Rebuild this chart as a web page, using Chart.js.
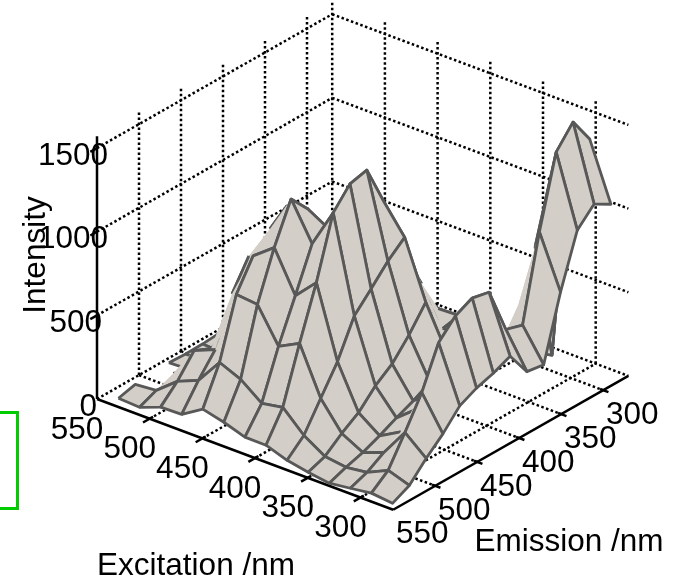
<!DOCTYPE html>
<html>
<head>
<meta charset="utf-8">
<style>
  html, body { margin: 0; padding: 0; background: #fff; }
  canvas { display: block; }
</style>
<script src="https://cdn.jsdelivr.net/npm/chart.js@4"></script>
</head>
<body>
<canvas id="chart" width="679" height="580"></canvas>
<script>
// grid of the measured surface
const excitation = [540, 520, 500, 480, 460, 440, 420, 400, 380, 360, 340, 320, 300, 280];
const emission = [537, 517, 497, 477, 457, 437, 417, 397, 377, 357, 337, 317, 297, 277];

// intensity along emission, one list per excitation
const exc540 = [-9, 17, null, 32, 27, 29, 37, 0, 0, 0, 0, 0, 0, 0];
const exc520 = [-16, 28, 72, 37, 21, 23, 0, 0, 0, 0, 0, 0, 0, 0];
const exc500 = [32, 129, 256, 210, 259, 142, 84, 56, 27, 0, 0, 0, 0, 0];
const exc480 = [36, 182, 309, 585, 754, 607, 429, 252, 133, 45, 0, 0, 0, 0];
const exc460 = [114, 336, 685, 859, 963, 1042, 805, 538, 330, 182, 35, 0, 0, 0];
const exc440 = [83, 282, 672, 955, 1189, 1072, 822, 585, 407, 230, 112, 24, 0, 0];
const exc420 = [41, 186, 469, 715, 968, 999, 690, 513, 394, 277, 159, 41, 0, 0];
const exc400 = [40, 209, 534, 840, 1200, 1316, 1341, 1098, 770, 443, 266, 88, 1, 0];
const exc380 = [-3, 88, 252, 414, 631, 735, 844, 929, 596, 389, 253, 105, 17, 0];
const exc360 = [-27, 10, 90, 157, 260, 334, 449, 588, 374, 394, 240, 123, 35, 0];
const exc340 = [-46, -8, 23, 66, 116, 160, 215, 331, 403, 286, 168, 140, 52, 23];
const exc320 = [-29, 9, 71, 137, 217, 267, 328, 270, 271, 303, 496, 785, 81, 1236];
const exc300 = [-11, 68, 237, 418, 659, 762, 812, 790, 510, 479, 978, 1399, 1521, 1361];
const exc280 = [-25, 25, 129, 219, 329, 378, 410, 454, 305, 289, 666, 979, 1078, 1020];
const intensity = [exc540, exc520, exc500, exc480, exc460, exc440, exc420, exc400,
  exc380, exc360, exc340, exc320, exc300, exc280];

// axis ticks and limits
const excTicks = [550, 500, 450, 400, 350, 300];
const emTicks = [550, 500, 450, 400, 350, 300];
const zTicks = [0, 500, 1000, 1500];
const excMax = 550, excMin = 269;
const emMax = 550, emMin = 270;
const zMax = 1570;

// mesh edges the original does not stroke (silhouettes and folds)
const hiddenEdges = [
  [1, 1, 1, 2], [1, 2, 2, 2], [2, 3, 3, 3], [2, 4, 3, 4], [3, 2, 3, 3], [3, 2, 4, 2],
  [3, 3, 4, 3], [3, 4, 4, 4], [4, 3, 4, 4], [4, 4, 5, 4], [8, 7, 8, 8], [8, 8, 8, 9],
  [8, 8, 9, 8], [9, 7, 9, 8], [10, 10, 11, 10], [10, 11, 11, 11], [11, 9, 11, 10], [11, 10, 11, 11],
  [11, 10, 12, 10], [11, 2, 11, 3], [11, 3, 11, 4], [11, 4, 11, 5], [11, 3, 12, 3], [11, 4, 12, 4],
  [11, 5, 12, 5], [11, 6, 12, 6], [11, 7, 12, 7], [11, 8, 12, 8],
];

const FONT = '31.5px "Liberation Sans", Arial, sans-serif';
const MESH = "#585858";
const SURFACE = "#d3cfc8";

// fixed view of the 3D box
function project(exc, em, z) {
  return {
    x: 97 + (excMax - exc) * 1.054 + (emMax - em) * 0.84,
    y: 399 + (excMax - exc) * 0.394 - (emMax - em) * 0.478 - z * 0.1673,
  };
}

function edgeKey(i1, j1, i2, j2) {
  const a = i1 * 100 + j1, b = i2 * 100 + j2;
  return a < b ? a + "-" + b : b + "-" + a;
}
const hiddenKeys = new Set(hiddenEdges.map((e) => edgeKey(e[0], e[1], e[2], e[3])));

function lineSet(points, color, width, dash) {
  return {
    data: points,
    showLine: true,
    fill: false,
    borderColor: color,
    borderWidth: width,
    borderDash: dash || [],
    borderCapStyle: "butt",
    pointRadius: 0,
    tension: 0,
  };
}

function buildCells() {
  const cells = [];
  // nearest cell first: chart.js paints the first dataset on top
  for (let i = excitation.length - 2; i >= 0; i--) {
    for (let j = 0; j < emission.length - 1; j++) {
      const nodes = [[i, j], [i + 1, j], [i + 1, j + 1], [i, j + 1], [i, j]];
      if (nodes.some((n) => intensity[n[0]][n[1]] === null)) continue;
      const points = nodes.map((n) => project(excitation[n[0]], emission[n[1]], intensity[n[0]][n[1]]));
      const hide = nodes.slice(0, 4).map((n, k) => {
        const m = nodes[k + 1];
        return hiddenKeys.has(edgeKey(n[0], n[1], m[0], m[1]));
      });
      const outline = lineSet(points, MESH, 2.8);
      outline.borderJoinStyle = "round";
      if (hide.includes(true)) {
        // the filler closes each styled segment on its own, so fill and outline stay apart
        outline.segment = { borderColor: (ctx) => (hide[ctx.p0DataIndex] ? "rgba(0,0,0,0)" : undefined) };
      }
      const face = lineSet(points, "rgba(0,0,0,0)", 0);
      face.fill = "shape";
      face.backgroundColor = SURFACE;
      cells.push(outline, face);
    }
  }
  return cells;
}

function buildBox() {
  const sets = [];
  const dots = [2.5, 2.5];
  const dotted = (a, b) => sets.push(lineSet([a, b], "#000", 2.5, dots));
  const solid = (a, b) => sets.push(lineSet([a, b], "#000", 2.5));

  // black axes and tick marks
  solid(project(excMax, emMax, 0), project(excMin, emMax, 0));
  solid(project(excMin, emMax, 0), project(excMin, emMin, 0));
  solid(project(excMax, emMax, 0), project(excMax, emMax, zMax));
  excTicks.slice(1).forEach((t) => solid(project(t, emMax + 8, 0), project(t, emMax - 4, 0)));
  emTicks.slice(1).forEach((t) => solid(project(excMin - 5, t, 0), project(excMin + 3, t, 0)));
  zTicks.slice(1).forEach((t) => solid(project(excMax, emMax + 8, t), project(excMax, emMax, t)));

  // dotted walls and floor
  zTicks.slice(1).forEach((t) => {
    dotted(project(excMax, emMax, t), project(excMax, emMin, t));
    dotted(project(excMax, emMin, t), project(excMin, emMin, t));
  });
  emTicks.slice(1).forEach((t) => {
    dotted(project(excMax, t, 0), project(excMax, t, zMax));
    dotted(project(excMax, t, 0), project(excMin, t, 0));
  });
  excTicks.slice(1).forEach((t) => {
    dotted(project(t, emMin, 0), project(t, emMin, zMax));
    dotted(project(t, emMax, 0), project(t, emMin, 0));
  });
  dotted(project(excMax, emMin, 0), project(excMax, emMin, zMax));
  dotted(project(excMax, emMax, 0), project(excMax, emMin, 0));
  dotted(project(excMax, emMin, 0), project(excMin, emMin, 0));
  return sets;
}

// axis text and the stray green box, drawn over the datasets
const textPlugin = {
  id: "boxText",
  afterDraw(chart) {
    const { ctx, scales } = chart;
    const put = (text, p, dx, dy, align) => {
      ctx.textAlign = align;
      ctx.fillText(text, scales.x.getPixelForValue(p.x) + dx, scales.y.getPixelForValue(p.y) + dy);
    };
    ctx.save();
    ctx.strokeStyle = "#00cc00";
    ctx.lineWidth = 3;
    ctx.beginPath();
    ctx.moveTo(-3, 412.5);
    ctx.lineTo(17.5, 412.5);
    ctx.lineTo(17.5, 508.5);
    ctx.lineTo(-3, 508.5);
    ctx.stroke();

    ctx.font = FONT;
    ctx.fillStyle = "#000";
    ctx.textBaseline = "middle";
    excTicks.forEach((t) => put(String(t), project(t, emMax, 0), -20, 31, "center"));
    emTicks.forEach((t) => put(String(t), project(excMin, t, 0), 29, 25, "center"));
    const zRight = [0, 5, 11, 11];
    zTicks.forEach((t, k) => put(String(t), project(excMax, emMax, t), zRight[k], 8, "right"));

    ctx.textBaseline = "alphabetic";
    ctx.textAlign = "center";
    ctx.fillText("Excitation /nm", 196, 575);
    ctx.fillText("Emission /nm", 569, 551);
    ctx.translate(45, 255);
    ctx.rotate(-Math.PI / 2);
    ctx.fillText("Intensity", 0, 0);
    ctx.restore();
  },
};

new Chart(document.getElementById("chart"), {
  type: "scatter",
  data: { datasets: buildCells().concat(buildBox()) },
  options: {
    responsive: false,
    animation: false,
    events: [],
    layout: { padding: 0 },
    scales: {
      x: { type: "linear", display: false, min: 0, max: 679 },
      y: { type: "linear", display: false, min: 0, max: 580, reverse: true },
    },
    plugins: {
      legend: { display: false },
      tooltip: { enabled: false },
      filler: { drawTime: "beforeDatasetDraw" },
    },
  },
  plugins: [textPlugin],
});
</script>
</body>
</html>
